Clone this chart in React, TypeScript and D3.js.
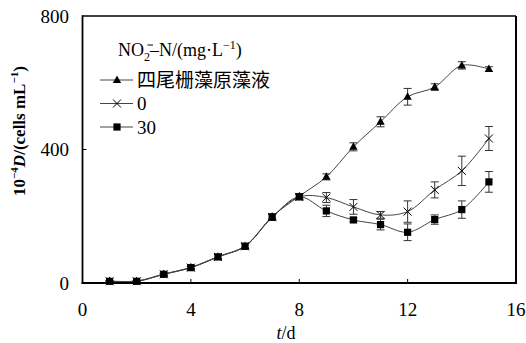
import React from "react";
import * as d3 from "d3";

// Culture day
const days = [1, 2, 3, 4, 5, 6, 7, 8, 9, 10, 11, 12, 13, 14, 15];

// Cell density (10^4 cells/mL) for each treatment, with standard deviations
const algaeOriginal = [6, 6, 27, 47, 79, 111, 199, 260, 318, 408, 483, 558, 587, 652, 641];
const algaeOriginalErr = [2, 2, 3, 4, 7, 8, 9, 8, 9, 12, 15, 25, 10, 11, 7];
const nitrite0 = [5, 5, 26, 46, 78, 110, 197, 258, 256, 228, 204, 214, 279, 336, 433];
const nitrite0Err = [2, 2, 3, 4, 7, 8, 9, 8, 15, 22, 10, 32, 24, 44, 36];
const nitrite30 = [5, 5, 26, 46, 78, 110, 197, 258, 216, 189, 175, 152, 190, 220, 303];
const nitrite30Err = [2, 2, 3, 4, 7, 8, 9, 8, 17, 6, 16, 25, 14, 26, 31];

const legendLabels = ["四尾栅藻原藻液", "0", "30"];
const xTicks = [0, 4, 8, 12, 16];
const yTicks = [0, 400, 800];

const W = 526;
const H = 343;
const M = { left: 82.5, top: 16, right: 10, bottom: 60 };
const FONT = "'Liberation Serif', 'Times New Roman', 'Noto Sans CJK SC', serif";

type Series = { values: number[]; err: number[]; marker: "tri" | "x" | "sq" };

const series: Series[] = [
  { values: algaeOriginal, err: algaeOriginalErr, marker: "tri" },
  { values: nitrite0, err: nitrite0Err, marker: "x" },
  { values: nitrite30, err: nitrite30Err, marker: "sq" },
];

function Marker({ kind, x, y }: { kind: string; x: number; y: number }) {
  if (kind === "tri") {
    return <path d={`M${x},${y - 4.5}L${x + 4.2},${y + 3}L${x - 4.2},${y + 3}Z`} fill="#000" />;
  }
  if (kind === "sq") {
    return <rect x={x - 3.6} y={y - 3.6} width={7.2} height={7.2} fill="#000" />;
  }
  return (
    <path
      d={`M${x - 4},${y - 4}L${x + 4},${y + 4}M${x - 4},${y + 4}L${x + 4},${y - 4}`}
      stroke="#000"
      strokeWidth={1}
    />
  );
}

export default function App() {
  const x = d3.scaleLinear().domain([0, 16]).range([M.left, W - M.right]);
  const y = d3.scaleLinear().domain([0, 800]).range([H - M.bottom, M.top]);
  const x0 = x(0);
  const x1 = x(16);
  const y0 = y(0);
  const y1 = y(800);

  const line = d3
    .line<number>()
    .x((_, i) => x(days[i]))
    .y((v) => y(v))
    .curve(d3.curveCatmullRom.alpha(0.5));

  return (
    <svg width={W} height={H} style={{ position: "absolute", left: 0, top: 0 }} fontFamily={FONT}>
      <rect width={W} height={H} fill="#fff" />

      {/* series lines, error bars and markers */}
      {series.map((s, si) => (
        <g key={si}>
          <path d={line(s.values) || ""} fill="none" stroke="#444" strokeWidth={1} />
          {s.values.map((v, i) => {
            const cx = x(days[i]);
            const top = y(v + s.err[i]);
            const bot = y(v - s.err[i]);
            return (
              <g key={i} stroke="#333" strokeWidth={1}>
                <line x1={cx} x2={cx} y1={top} y2={bot} />
                <line x1={cx - 4} x2={cx + 4} y1={top} y2={top} />
                <line x1={cx - 4} x2={cx + 4} y1={bot} y2={bot} />
              </g>
            );
          })}
          {s.values.map((v, i) => (
            <Marker key={i} kind={s.marker} x={x(days[i])} y={y(v)} />
          ))}
        </g>
      ))}

      {/* frame */}
      <line x1={x0} x2={x1} y1={y1} y2={y1} stroke="#000" strokeWidth={1.5} />
      <line x1={x1} x2={x1} y1={y1} y2={y0} stroke="#000" strokeWidth={2} />
      <line x1={x0} x2={x0} y1={y1 - 0.75} y2={y0 + 1} stroke="#000" strokeWidth={1.8} />
      <line x1={x0 - 0.9} x2={x1 + 1} y1={y0} y2={y0} stroke="#000" strokeWidth={2} />

      {/* inward ticks */}
      {xTicks.slice(1, -1).map((t) => (
        <line key={t} x1={x(t)} x2={x(t)} y1={y0} y2={y0 - 4} stroke="#000" strokeWidth={1} />
      ))}
      {yTicks.slice(1, -1).map((t) => (
        <line key={t} x1={x0} x2={x0 + 4} y1={y(t)} y2={y(t)} stroke="#000" strokeWidth={1} />
      ))}

      {/* tick labels */}
      {xTicks.map((t) => (
        <text key={t} x={x(t)} y={316} textAnchor="middle" fontSize={19}>
          {t}
        </text>
      ))}
      {yTicks.map((t) => (
        <text key={t} x={69} y={y(t) + 6.5} textAnchor="end" fontSize={19}>
          {t}
        </text>
      ))}

      {/* axis titles */}
      <text x={286} y={339} textAnchor="middle" fontSize={18}>
        <tspan fontStyle="italic">t</tspan>/d
      </text>
      <text
        transform="translate(25,131) rotate(-90)"
        textAnchor="middle"
        fontSize={17}
        fontWeight="bold"
      >
        10
        <tspan fontSize={11} dy={-7}>−4</tspan>
        <tspan fontStyle="italic" dy={7}>D</tspan>
        /(cells mL
        <tspan fontSize={11} dy={-7}>−1</tspan>
        <tspan dy={7}>)</tspan>
      </text>

      {/* legend title: nitrite ion with stacked charge sign drawn as a stroke */}
      <text x={118} y={56} fontSize={18}>
        NO
        <tspan fontSize={12} dy={5}>2</tspan>
        <tspan dy={-5}>–N/(mg·L</tspan>
        <tspan fontSize={12} dy={-7}>−1</tspan>
        <tspan dy={7}>)</tspan>
      </text>
      <line x1={147.5} x2={153} y1={45} y2={45} stroke="#000" strokeWidth={1} />
      {series.map((s, i) => {
        const ly = 80 + i * 23.5;
        return (
          <g key={i}>
            <line x1={100} x2={133} y1={ly} y2={ly} stroke="#444" strokeWidth={1} />
            <Marker kind={s.marker} x={117} y={ly} />
            <text x={137} y={ly + 6.5} fontSize={19}>
              {legendLabels[i]}
            </text>
          </g>
        );
      })}
    </svg>
  );
}
